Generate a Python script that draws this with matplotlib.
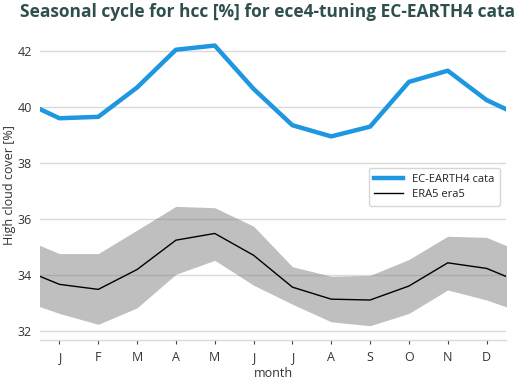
import numpy as np
import matplotlib
matplotlib.use("Agg")
import matplotlib.pyplot as plt

plt.rcParams['font.family'] = ['Open Sans', 'DejaVu Sans']

# monthly climatology of high cloud cover [%]
months = ["J", "F", "M", "A", "M", "J", "J", "A", "S", "O", "N", "D"]
model_name = "EC-EARTH4 cata"
obs_name = "ERA5 era5"
model_hcc = [39.6, 39.65, 40.7, 42.05, 42.2, 40.65, 39.35, 38.95, 39.3, 40.9, 41.3, 40.25]
obs_hcc = [33.66, 33.48, 34.19, 35.24, 35.48, 34.70, 33.56, 33.13, 33.10, 33.60, 34.43, 34.23]
obs_upper = [34.76, 34.76, 35.6, 36.45, 36.4, 35.74, 34.29, 33.95, 33.98, 34.55, 35.38, 35.34]
obs_lower = [32.62, 32.23, 32.82, 34.02, 34.52, 33.63, 32.95, 32.32, 32.18, 32.62, 33.46, 33.1]


def wrap(v):
    # add december before january and january after december (cyclic)
    return np.concatenate([[v[-1]], v, [v[0]]])


x = np.arange(0, 14)

fig = plt.figure(figsize=(5.22, 3.80), dpi=100)
ax = fig.add_axes([40 / 522, 40 / 380, 466 / 522, 309 / 380])

ax.fill_between(x, wrap(obs_lower), wrap(obs_upper), color='gray', alpha=0.5, lw=0, zorder=2)
ax.plot(x, wrap(model_hcc), color='#1e96e0', lw=3.2, label=model_name, zorder=3)
ax.plot(x, wrap(obs_hcc), color='black', lw=1.0, label=obs_name, zorder=3)

ax.set_xlim(0.5, 12.5)
ax.set_ylim(31.67, 42.72)
ax.set_xticks(np.arange(1, 13))
ax.set_xticklabels(months)
ax.set_yticks([32, 34, 36, 38, 40, 42])

ax.grid(axis='y', color='#d9d9d9', lw=1.0, zorder=1)
ax.set_axisbelow(True)
for s in ['top', 'right', 'left']:
    ax.spines[s].set_visible(False)
ax.spines['bottom'].set_color('#d9d9d9')
ax.spines['bottom'].set_linewidth(1.0)
ax.tick_params(axis='y', length=0, pad=6, labelsize=9, labelcolor='#333333')
ax.tick_params(axis='x', length=3, color='#444444', pad=5, labelsize=9, labelcolor='#333333')

ax.set_xlabel("month", fontsize=9, color='#333333', labelpad=2)
ax.set_ylabel("High cloud cover [%]", fontsize=9, color='#333333', labelpad=1)

leg = ax.legend(loc='upper right', bbox_to_anchor=(460 / 466, 1 - 137 / 309), fontsize=8,
                frameon=True, fancybox=True, handlelength=2.6, borderpad=0.5,
                labelspacing=0.4, borderaxespad=0)
leg.get_frame().set_edgecolor('#cccccc')
leg.get_frame().set_linewidth(1.0)
for t in leg.get_texts():
    t.set_color('#222222')

fig.text(20 / 522, 1 - 3 / 380, "Seasonal cycle for hcc [%] for ece4-tuning EC-EARTH4 cata",
         fontsize=12.5, fontweight='bold', color='#2f4f4f', ha='left', va='top')

fig.savefig("out.png", dpi=100)
